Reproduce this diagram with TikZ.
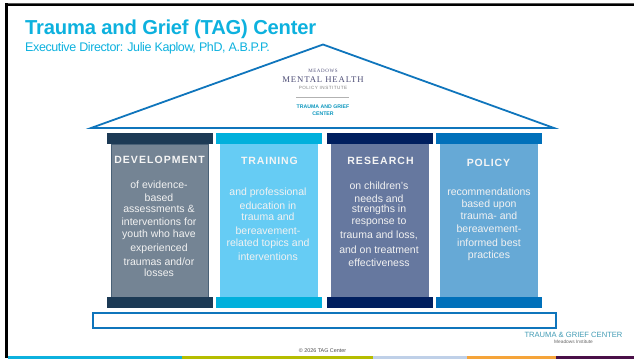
\documentclass[tikz,border=0pt]{standalone}
\usepackage{fontspec}
\setmainfont{Liberation Sans}
\newfontfamily\serifrm{Liberation Serif}
\definecolor{cyanT}{HTML}{0DB1DE}
\definecolor{roofB}{HTML}{0F75BC}
\definecolor{capA}{HTML}{1C3A55}
\definecolor{capB}{HTML}{00B0DC}
\definecolor{capC}{HTML}{001F5F}
\definecolor{capD}{HTML}{0070BA}
\definecolor{shaftA}{HTML}{748494}
\definecolor{shaftB}{HTML}{66CCF4}
\definecolor{shaftC}{HTML}{66789F}
\definecolor{shaftD}{HTML}{66A9D6}
\definecolor{stripB}{HTML}{B5BD00}
\definecolor{stripC}{HTML}{BFD0E8}
\definecolor{stripD}{HTML}{F5A43A}
\definecolor{stripE}{HTML}{4A1048}
\tikzset{
  captop/.style={anchor=north west,minimum height=11pt,minimum width=106pt,inner sep=0pt},
  shaft/.style={anchor=north west,minimum height=153pt,minimum width=98pt,inner sep=0pt},
  head/.style={text=white!92!gray,font=\fontsize{10.5}{12}\selectfont\bfseries,inner sep=0pt},
  body/.style={text=white!90!gray,font=\fontsize{10.5}{12}\selectfont,inner sep=0pt},
  strip/.style={anchor=north west,minimum height=2.4pt,inner sep=0pt},
}
\begin{document}
\begin{tikzpicture}[x=1pt,y=-1pt]
\useasboundingbox (0,0) rectangle (634,360);
% frame
\fill[black!65] (5,3) rectangle (634,4);
\fill[black] (5,4) rectangle (634,6);
\fill[black] (5,3) rectangle (8,358);
% bottom strip
\node[strip,fill=cyanT,minimum width=174pt] (s1) at (8,356) {};
\node[strip,fill=stripB,minimum width=191pt] (s2) at (182,356) {};
\node[strip,fill=stripC,minimum width=94pt] (s3) at (373,356) {};
\node[strip,fill=stripD,minimum width=89pt] (s4) at (467,356) {};
\node[strip,fill=stripE,minimum width=78pt] (s5) at (556,356) {};
% title
\node[anchor=base west,inner sep=0pt,text=cyanT,font=\fontsize{20.2}{22}\selectfont\bfseries] (title) at (25,34) {\addfontfeature{LetterSpace=-1.0}Trauma and Grief (TAG) Center};
\node[anchor=base west,inner sep=0pt,text=cyanT,font=\fontsize{12.5}{14}\selectfont] (sub) at (25,51) {\addfontfeature{LetterSpace=-3.2}Executive Director: Julie Kaplow, PhD, A.B.P.P.};
% roof
\coordinate (rl) at (91,128);
\coordinate (rr) at (554,128);
\coordinate (ra) at (323,44.5);
\draw[roofB,line width=1.8pt,line join=miter] (rl) -- (ra) -- (rr) -- cycle;
% logo
\node[inner sep=0pt,text=black!55!blue!35!gray,font=\fontsize{5}{6}\selectfont\serifrm] (m1) at (323,71) {\addfontfeature{LetterSpace=12}MEADOWS};
\node[inner sep=0pt,text=black!60!blue!40!gray,font=\fontsize{8.7}{10}\selectfont\serifrm] (m2) at (323,79.5) {\addfontfeature{LetterSpace=10}MENTAL HEALTH};
\node[inner sep=0pt,text=gray,font=\fontsize{4.6}{5}\selectfont] (m3) at (323,88) {\addfontfeature{LetterSpace=10}POLICY INSTITUTE};
\draw[gray!60,line width=0.4pt] (296,97.5) -- (349,97.5);
\node[inner sep=0pt,text=cyanT!85!black,font=\fontsize{5.2}{6}\selectfont\bfseries] (m4) at (323,107) {TRAUMA AND GRIEF};
\node[inner sep=0pt,text=cyanT!85!black,font=\fontsize{5.2}{6}\selectfont\bfseries] (m5) at (323,113.5) {CENTER};
% columns
\node[shaft,fill=shaftA,draw=capA!80,line width=0.7pt,minimum width=97pt,minimum height=153pt] (sa) at (111,144) {};
\node[shaft,fill=shaftB] (sb) at (220,144) {};
\node[shaft,fill=shaftC] (sc) at (331,144) {};
\node[shaft,fill=shaftD] (sd) at (440,144) {};
\node[captop,fill=capA] (ta) at (107,133) {};
\node[captop,fill=capB] (tb) at (216,133) {};
\node[captop,fill=capC] (tc) at (327,133) {};
\node[captop,fill=capD] (td) at (436,133) {};
\node[captop,fill=capA] (ba) at (107,297) {};
\node[captop,fill=capB] (bb) at (216,297) {};
\node[captop,fill=capC] (bc) at (327,297) {};
\node[captop,fill=capD] (bd) at (436,297) {};
% heads
\node[head] (ha) at (159.5,160) {\addfontfeature{LetterSpace=10}DEVELOPMENT};
\node[head] (hb) at (269.5,161) {\addfontfeature{LetterSpace=8}TRAINING};
\node[head] (hc) at (380.5,161) {\addfontfeature{LetterSpace=10}RESEARCH};
\node[head] (hd) at (488.5,163) {\addfontfeature{LetterSpace=8}POLICY};
% body A
\node[body] at (159,184.5) {of evidence-};
\node[body] at (159,197.5) {based};
\node[body] at (159,208.5) {assessments \&};
\node[body] at (159,221.5) {interventions for};
\node[body] at (159,234.5) {youth who have};
\node[body] at (159,248.5) {experienced};
\node[body] at (159,261.5) {traumas and/or};
\node[body] at (159,272.5) {losses};
% body B
\node[body] at (268,192.5) {and professional};
\node[body] at (268,205.5) {education in};
\node[body] at (268,216.5) {trauma and};
\node[body] at (268,230.5) {bereavement-};
\node[body] at (268,243.5) {related topics and};
\node[body] at (268,256.5) {interventions};
% body C
\node[body] at (379,185.5) {on children’s};
\node[body] at (379,198.5) {needs and};
\node[body] at (379,209.5) {strengths in};
\node[body] at (379,222.5) {response to};
\node[body] at (379,235.5) {trauma and loss,};
\node[body] at (379,249.5) {and on treatment};
\node[body] at (379,262.5) {effectiveness};
% body D
\node[body] at (489,191.5) {recommendations};
\node[body] at (489,204.5) {based upon};
\node[body] at (489,215.5) {trauma- and};
\node[body] at (489,228.5) {bereavement-};
\node[body] at (489,242.5) {informed best};
\node[body] at (489,255.5) {practices};
% base
\node[draw=roofB,line width=1.7pt,fill=white,anchor=north west,minimum width=463pt,minimum height=15pt,inner sep=0pt] (base) at (92,312) {};
% footer
\node[inner sep=0pt,text=black!70,font=\fontsize{5.4}{6}\selectfont] (copy) at (322.5,351) {© 2026 TAG Center};
\node[inner sep=0pt,text=cyanT!55!gray,font=\fontsize{7.6}{8}\selectfont] (lg1) at (573.5,335) {TRAUMA \& GRIEF CENTER};
\node[inner sep=0pt,text=black!60,font=\fontsize{4.8}{5}\selectfont] (lg2) at (573.5,342) {Meadows Institute};
\end{tikzpicture}
\end{document}
